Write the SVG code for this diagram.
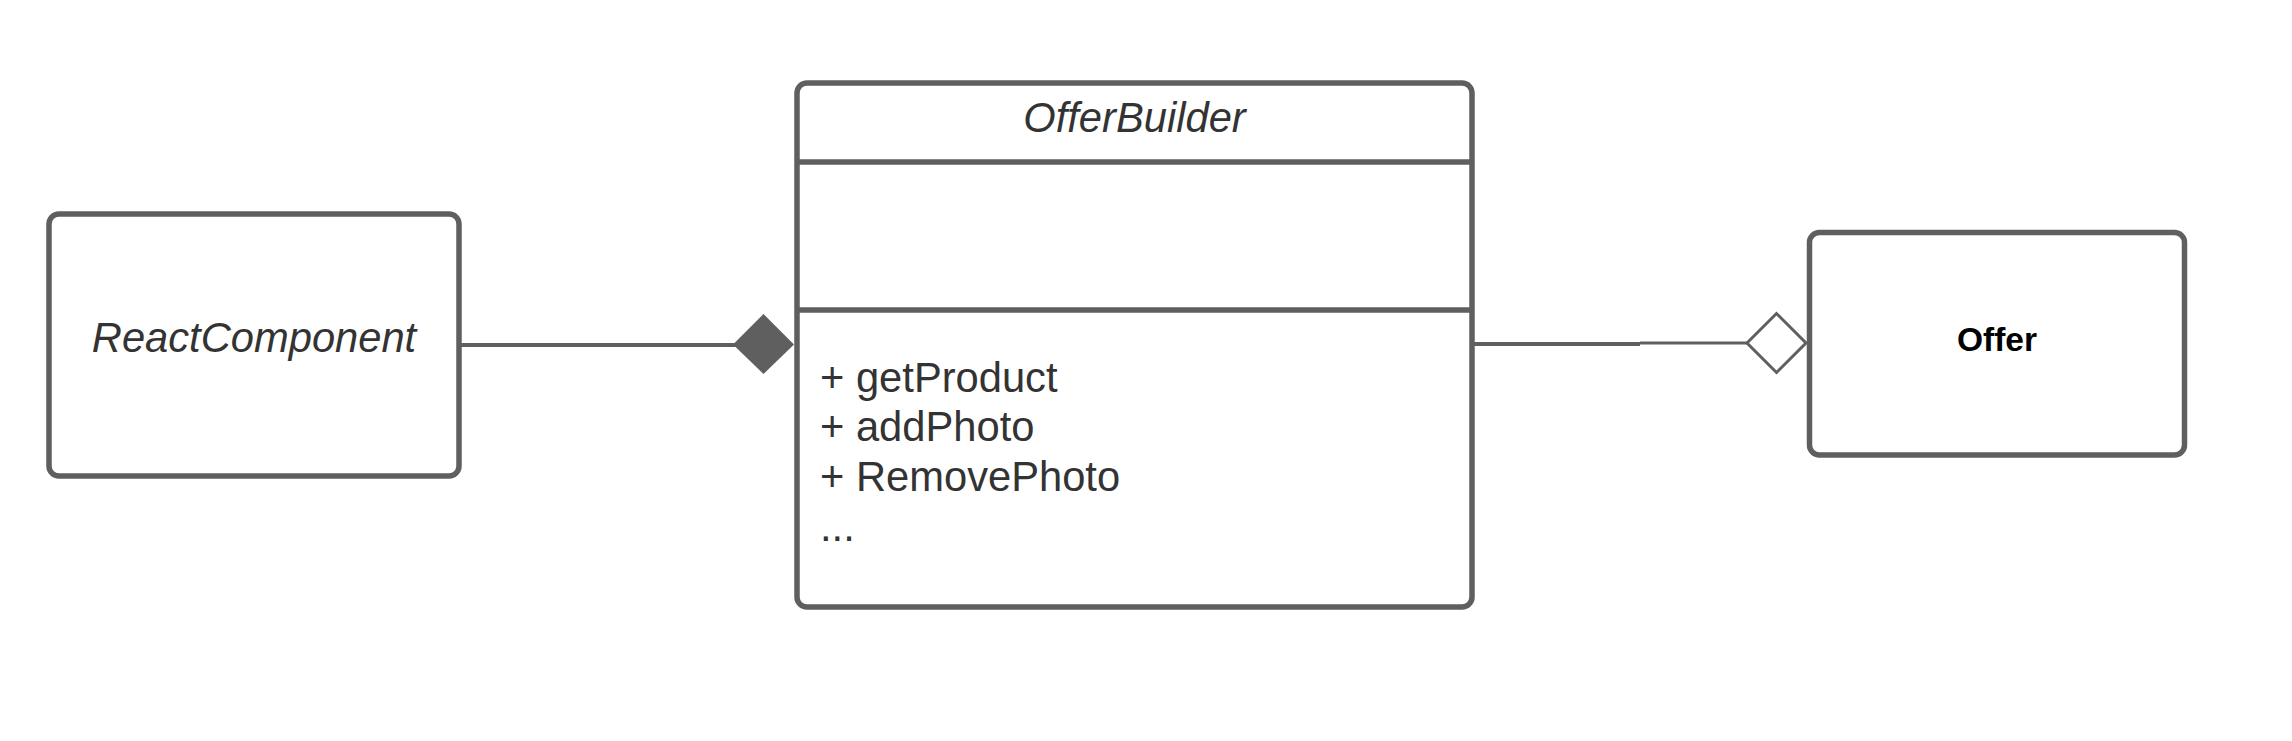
<svg xmlns="http://www.w3.org/2000/svg" width="2292" height="741" viewBox="0 0 2292 741">
<style>
.box{fill:#fff;stroke:#5f5f5f;stroke-width:5.5}
.div{stroke:#5f5f5f;stroke-width:5.5}
.conn{fill:none;stroke:#5f5f5f}
.it{font-family:"Liberation Sans",Arial,sans-serif;font-style:italic;font-size:41.7px;fill:#333}
.m{font-family:"Liberation Sans",Arial,sans-serif;font-size:41.7px;fill:#333}
.b{font-family:"Liberation Sans",Arial,sans-serif;font-weight:bold;font-size:33.5px;fill:#000}
</style>
<rect width="2292" height="741" fill="#fff"/>
<g id="connectors">
<line class="conn" x1="459" y1="345" x2="736" y2="345" stroke-width="4"/>
<polygon points="733,344.5 763.5,314 794,344.5 763.5,374" fill="#5f5f5f"/>
<line class="conn" x1="1472" y1="344" x2="1640" y2="344" stroke-width="4"/>
<line class="conn" x1="1640" y1="343" x2="1748" y2="343" stroke-width="3"/>
<polygon points="1747,343 1776.5,313.5 1806,343 1776.5,372.5" fill="#fff" stroke="#5f5f5f" stroke-width="3"/>
</g>
<g id="ReactComponent">
<rect class="box" x="49" y="214" width="410" height="262" rx="10"/>
<text class="it" x="254" y="352" text-anchor="middle">ReactComponent</text>
</g>
<g id="OfferBuilder">
<rect class="box" x="797" y="83" width="675" height="524" rx="10"/>
<line class="div" x1="797" y1="162" x2="1472" y2="162"/>
<line class="div" x1="797" y1="310" x2="1472" y2="310"/>
<text class="it" x="1134.5" y="132" text-anchor="middle">OfferBuilder</text>
<text class="m" x="820" y="392">+ getProduct</text>
<text class="m" x="820" y="441">+ addPhoto</text>
<text class="m" x="820" y="491">+ RemovePhoto</text>
<text class="m" x="820" y="541">...</text>
</g>
<g id="Offer">
<rect class="box" x="1809.5" y="232.5" width="375" height="222.5" rx="10"/>
<text class="b" x="1997" y="351" text-anchor="middle">Offer</text>
</g>
</svg>
